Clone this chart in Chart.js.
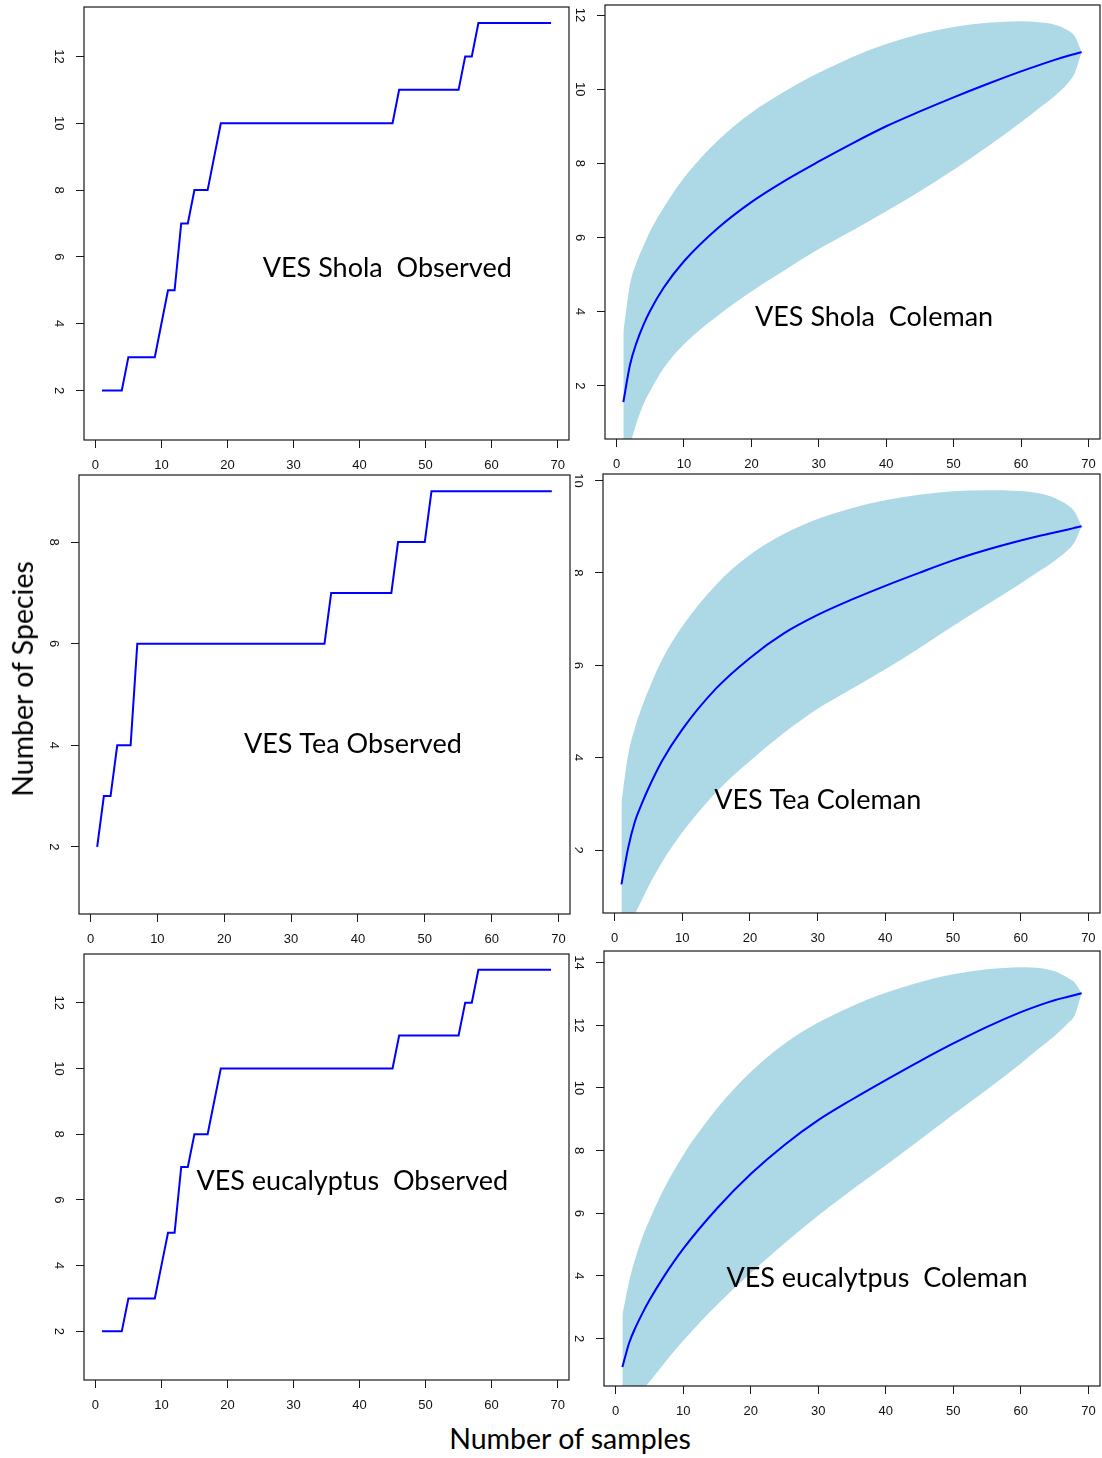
<!DOCTYPE html>
<html><head><meta charset="utf-8">
<script src="https://cdn.jsdelivr.net/npm/chart.js@4.4.1/dist/chart.umd.min.js"></script>
<style>
body{margin:0;background:#fff}
#page{position:relative;width:1102px;height:1458px;overflow:hidden;background:#fff}
.pn{position:absolute}
.ttl{position:absolute;font:28.5px/1.2 Lato,sans-serif;color:#000;white-space:pre}
#ylab{left:22px;top:679px;transform:translate(-50%,-50%) rotate(-90deg)}
#xlab{left:570px;top:1421px;transform:translateX(-50%)}
</style></head><body>
<div id="page">
  <div class="ttl" id="ylab">Number of Species</div>
  <div class="ttl" id="xlab">Number of samples</div>
</div>
<script>
// sampling units 1..69
const samples = [1,2,3,4,5,6,7,8,9,10,11,12,13,14,15,16,17,18,19,20,21,22,23,24,25,26,27,28,29,30,
  31,32,33,34,35,36,37,38,39,40,41,42,43,44,45,46,47,48,49,50,51,52,53,54,55,56,57,58,59,60,
  61,62,63,64,65,66,67,68,69];

// observed species accumulation
const sholaObs = [2,2,2,2,3,3,3,3,3,4, 5,5,7,7,8,8,8,9,10,10, 10,10,10,10,10,10,10,10,10,10,
  10,10,10,10,10,10,10,10,10,10, 10,10,10,10,10,11,11,11,11,11, 11,11,11,11,11,12,12,13,13,13,
  13,13,13,13,13,13,13,13,13];
const teaObs = [2,3,3,4,4,4,6,6,6,6, 6,6,6,6,6,6,6,6,6,6, 6,6,6,6,6,6,6,6,6,6,
  6,6,6,6,6,7,7,7,7,7, 7,7,7,7,7,8,8,8,8,8, 9,9,9,9,9,9,9,9,9,9,
  9,9,9,9,9,9,9,9,9];
const eucObs = [2,2,2,2,3,3,3,3,3,4, 5,5,7,7,8,8,8,9,10,10, 10,10,10,10,10,10,10,10,10,10,
  10,10,10,10,10,10,10,10,10,10, 10,10,10,10,10,11,11,11,11,11, 11,11,11,11,11,12,12,13,13,13,
  13,13,13,13,13,13,13,13,13];

// Coleman expected richness with +/- 2 sd band
const colX = [1,2,3,4,5,7,10,15,20,25,30,35,40,45,50,55,60,63,65,67,68,69];
const sholaMean  = [1.56,2.575,3.185,3.65,4.03,4.65,5.36,6.25,6.955,7.535,8.05,8.54,9.0,9.4,9.78,10.14,10.48,10.67,10.79,10.9,10.95,11.0];
const sholaUpper = [3.46,4.745,5.345,5.78,6.18,6.81,7.61,8.61,9.365,9.945,10.44,10.87,11.22,11.49,11.68,11.79,11.83,11.8,11.74,11.58,11.42,11.0];
const sholaLower = [-0.34,0.405,1.025,1.51,1.87,2.48,3.12,3.89,4.545,5.125,5.69,6.19,6.705,7.245,7.825,8.445,9.105,9.53,9.815,10.17,10.45,11.0];
const teaMean  = [1.26,2.05,2.62,3.0,3.34,3.93,4.615,5.5,6.16,6.69,7.09,7.42,7.72,8.0,8.27,8.5,8.7,8.81,8.875,8.94,8.975,9.01];
const teaUpper = [3.02,4.07,4.645,5.085,5.465,6.12,6.845,7.745,8.39,8.84,9.165,9.4,9.57,9.69,9.765,9.79,9.77,9.71,9.62,9.46,9.32,9.01];
const teaLower = [-0.5,0.03,0.595,0.915,1.215,1.74,2.385,3.255,3.93,4.535,5.06,5.49,5.915,6.37,6.85,7.31,7.77,8.06,8.26,8.5,8.675,9.01];
const eucMean  = [1.09,1.86,2.38,2.82,3.22,3.93,4.86,6.15,7.25,8.18,8.97,9.63,10.25,10.85,11.42,11.95,12.42,12.66,12.8,12.91,12.965,13.02];
const eucUpper = [2.75,3.82,4.61,5.26,5.78,6.71,7.85,9.34,10.51,11.41,12.085,12.61,13.035,13.375,13.625,13.785,13.855,13.82,13.72,13.51,13.36,13.02];
const eucLower = [-0.57,-0.1,0.15,0.36,0.62,1.16,1.93,3.07,4.09,5.04,5.93,6.75,7.53,8.34,9.15,9.95,10.78,11.31,11.66,12.07,12.33,13.02];

// axis ticks
const xTicks = [0,10,20,30,40,50,60,70];
const yTicks9 = [2,4,6,8];
const yTicks10 = [2,4,6,8,10];
const yTicks12 = [2,4,6,8,10,12];
const yTicks14 = [2,4,6,8,10,12,14];

const BLUE = '#0000ff', BAND = '#add8e6';
const tickFont = {family: '"Liberation Sans", Arial, sans-serif', size: 13};
const TICK_LEN = 8;

// canvas: [left, top, width, height]; box: [left, top, right, bottom] of the plot region
const panels = [
  {canvas:[0,0,575,478], box:[84,7,569,440], y:[0.52,13.48], yTicks:yTicks12, obs:sholaObs,
   note:{text:'VES Shola  Observed', x:44.2, y:5.41}},
  {canvas:[575,0,527,478], box:[605,5,1100,439], y:[0.566,12.27], yTicks:yTicks12,
   mean:sholaMean, upper:sholaUpper, lower:sholaLower,
   note:{text:'VES Shola  Coleman', x:38.2, y:3.6}},
  {canvas:[0,468,575,482], box:[79,475,570,914], y:[0.68,9.32], yTicks:yTicks9, obs:teaObs,
   note:{text:'VES Tea Observed', x:39.24, y:3.85}},
  {canvas:[575,468,527,482], box:[603,474,1100,913], y:[0.64,10.14], yTicks:yTicks10,
   mean:teaMean, upper:teaUpper, lower:teaLower,
   note:{text:'VES Tea Coleman', x:30.0, y:2.9}},
  {canvas:[0,946,575,474], box:[84,954,569,1380], y:[0.52,13.48], yTicks:yTicks12, obs:eucObs,
   note:{text:'VES eucalyptus  Observed', x:38.9, y:6.29}},
  {canvas:[575,946,527,474], box:[604,951,1100,1386], y:[0.486,14.37], yTicks:yTicks14,
   mean:eucMean, upper:eucUpper, lower:eucLower,
   note:{text:'VES eucalytpus  Coleman', x:38.7, y:3.65}}
];

// plot frame like R's box()
const framePlugin = {
  id: 'frame',
  afterDraw(c) {
    const {ctx, chartArea: a} = c;
    ctx.save();
    ctx.strokeStyle = '#1a1a1a';
    ctx.lineWidth = 1.2;
    ctx.strokeRect(a.left, a.top, a.right - a.left, a.bottom - a.top);
    ctx.restore();
  }
};

// panel caption placed in data coordinates
const notePlugin = {
  id: 'note',
  afterDatasetsDraw(c, args, o) {
    if (!o.text) return;
    const {ctx, scales: {x, y}} = c;
    ctx.save();
    ctx.font = '27px Lato';
    ctx.fillStyle = '#000';
    ctx.textAlign = 'center';
    ctx.textBaseline = 'alphabetic';
    ctx.fillText(o.text, x.getPixelForValue(o.x), y.getPixelForValue(o.y));
    ctx.restore();
  }
};

const mctx = document.createElement('canvas').getContext('2d');
mctx.font = `${tickFont.size}px ${tickFont.family}`;
function yPad(ticks) {
  const w = Math.max(...ticks.map(v => mctx.measureText(String(v)).width));
  return 25 - TICK_LEN - w / 2;
}

const pts = (xs, ys) => xs.map((x, i) => ({x, y: ys[i]}));

function build(p) {
  const [cl, ct, cw, ch] = p.canvas;
  const [bl, bt, br, bb] = p.box;
  const div = document.createElement('div');
  div.className = 'pn';
  div.style.cssText = `left:${cl}px;top:${ct}px;width:${cw}px;height:${ch}px`;
  const cv = document.createElement('canvas');
  cv.width = cw; cv.height = ch;
  cv.style.width = cw + 'px'; cv.style.height = ch + 'px';
  div.appendChild(cv);
  document.getElementById('page').prepend(div);

  let datasets;
  if (p.obs) {
    datasets = [{data: pts(samples, p.obs), borderColor: BLUE, borderWidth: 2, pointRadius: 0, tension: 0, fill: false}];
  } else {
    datasets = [
      {data: pts(colX, p.mean), borderColor: BLUE, borderWidth: 2, pointRadius: 0, cubicInterpolationMode: 'monotone', fill: false},
      {data: pts(colX, p.upper), borderWidth: 0, borderColor: BAND, backgroundColor: BAND, pointRadius: 0, cubicInterpolationMode: 'monotone', fill: '+1'},
      {data: pts(colX, p.lower), borderWidth: 0, borderColor: BAND, pointRadius: 0, cubicInterpolationMode: 'monotone', fill: false}
    ];
  }

  new Chart(cv, {
    type: 'line',
    data: {datasets},
    plugins: [framePlugin, notePlugin],
    options: {
      responsive: false, animation: false, events: [],
      layout: {padding: {left: 0, top: bt - ct, right: cl + cw - br, bottom: 0}},
      plugins: {legend: {display: false}, tooltip: {enabled: false}, note: p.note},
      scales: {
        x: {
          type: 'linear', min: -1.72, max: 71.72,
          afterBuildTicks: s => { s.ticks = xTicks.map(v => ({value: v})) },
          afterFit: s => { s.height = ct + ch - bb; s.paddingLeft = 0; s.paddingRight = 0 },
          grid: {drawOnChartArea: false, drawTicks: true, tickLength: TICK_LEN, color: '#1a1a1a', lineWidth: 1},
          border: {display: false},
          ticks: {color: '#111', font: tickFont, padding: 9.5, maxRotation: 0, autoSkip: false}
        },
        y: {
          type: 'linear', min: p.y[0], max: p.y[1],
          afterBuildTicks: s => { s.ticks = p.yTicks.map(v => ({value: v})) },
          afterFit: s => { s.width = bl - cl; s.paddingTop = 0; s.paddingBottom = 0 },
          grid: {drawOnChartArea: false, drawTicks: true, tickLength: TICK_LEN, color: '#1a1a1a', lineWidth: 1},
          border: {display: false},
          ticks: {color: '#111', font: tickFont, padding: yPad(p.yTicks), minRotation: -90, maxRotation: -90,
                  crossAlign: 'center', autoSkip: false}
        }
      }
    }
  });
}

document.fonts.load('28px Lato').then(() => panels.forEach(build));
</script>
</body></html>
